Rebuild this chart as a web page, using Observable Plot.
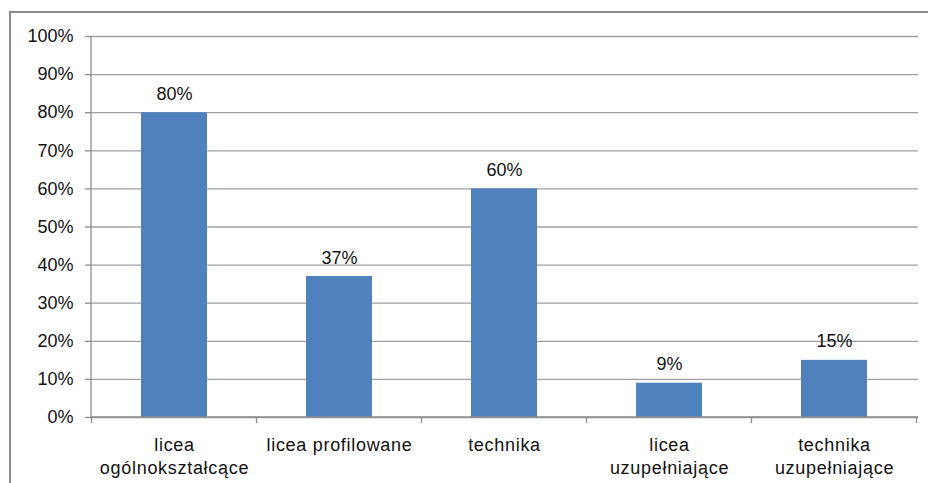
<!DOCTYPE html>
<html><head><meta charset="utf-8">
<script src="https://cdn.jsdelivr.net/npm/d3@7"></script>
<script src="https://cdn.jsdelivr.net/npm/@observablehq/plot@0.6"></script>
<style>
body{margin:0;background:#fff;overflow:hidden;width:928px;height:483px}
#frame{position:absolute;left:9px;top:11px;width:1000px;height:1000px;border-left:2px solid #8c8c8c;border-top:2px solid #8c8c8c;}
#chart{position:absolute;left:0;top:0}
g[aria-label="x-axis tick label"] text{letter-spacing:0.7px}
g[aria-label="bar value"] text{letter-spacing:1.1px}
</style></head><body>
<div id="frame"></div><div id="chart"></div>
<script>
const categories = ["licea ogólnokształcące", "licea profilowane", "technika", "licea uzupełniające", "technika uzupełniające"];
const tickLabels = ["licea\nogólnokształcące", "licea profilowane", "technika", "licea\nuzupełniające", "technika\nuzupełniające"];
const values = [80, 37, 60, 9, 15];
const yTicks = [0, 10, 20, 30, 40, 50, 60, 70, 80, 90, 100];

const data = categories.map((c, i) => ({category: c, value: values[i]}));
const labelOf = new Map(categories.map((c, i) => [c, tickLabels[i]]));

const axisColor = "#8c8c8c";
const gridColor = "#a0a0a0";
const barColor = "#4f81bd";

function frameAndTicks(index, scales, vals, dim) {
  const x = scales.x, y = scales.y;
  const bw = x.bandwidth();
  const step = x.step ? x.step() : (x(categories[1]) - x(categories[0]));
  const g = d3.create("svg:g").attr("stroke", axisColor).attr("stroke-width", 1.3).attr("fill", "none");
  const y0 = y(0);
  const left = dim.marginLeft, right = dim.width - dim.marginRight;
  g.append("line").attr("x1", left).attr("x2", left).attr("y1", y(100)).attr("y2", y0);
  g.append("line").attr("x1", left).attr("x2", right).attr("y1", y0).attr("y2", y0);
  const bounds = categories.map(c => x(c) - (step - bw) / 2);
  bounds.push(x(categories[categories.length - 1]) + bw + (step - bw) / 2);
  for (const b of bounds) {
    g.append("line").attr("x1", b).attr("x2", b).attr("y1", y0).attr("y2", y0 + 6);
  }
  return g.node();
}

const chart = Plot.plot({
  width: 928,
  height: 483,
  marginLeft: 91,
  marginRight: 10,
  marginTop: 36,
  marginBottom: 66,
  style: {fontFamily: "'Liberation Sans', Arial, sans-serif", fontSize: "18px", color: "#111", background: "transparent"},
  x: {domain: categories, paddingInner: 0.6, paddingOuter: 0.3},
  y: {domain: [0, 100]},
  marks: [
    Plot.gridY(yTicks, {stroke: gridColor, strokeOpacity: 1, strokeWidth: 1.3}),
    Plot.barY(data, {x: "category", y: "value", fill: barColor}),
    Plot.text(data, {x: "category", y: "value", text: d => d.value + "%", lineAnchor: "bottom", dy: -13, fill: "#111", fontSize: 18, ariaLabel: "bar value"}),
    Plot.axisY(yTicks, {tickFormat: d => d + "%", tickSize: 6, tickPadding: 12, stroke: axisColor, strokeWidth: 1.3, strokeOpacity: 1, fill: "#111", label: null, fontSize: 18}),
    Plot.axisX({tickSize: 0, tickPadding: 17, tickFormat: d => labelOf.get(d), lineHeight: 1.27, label: null, fill: "#111", fontSize: 18}),
    frameAndTicks
  ]
});
document.getElementById("chart").appendChild(chart);
</script>
</body></html>
